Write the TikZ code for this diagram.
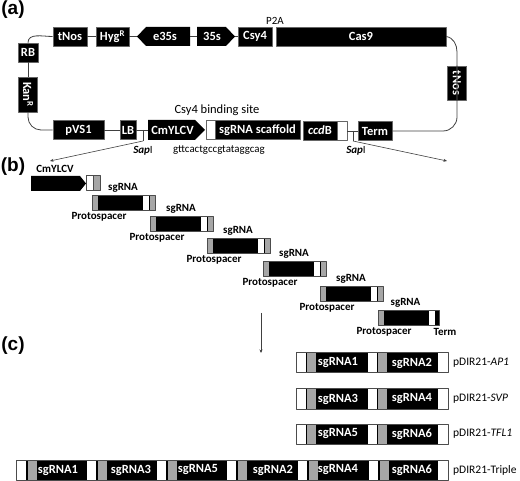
\documentclass[tikz,border=0pt]{standalone}
\usepackage{fontspec}
\setmainfont{Carlito}
\newfontfamily\panelfont{Liberation Sans}
\usetikzlibrary{arrows.meta}

\tikzset{
  part/.style={draw=black!60, line width=0.6pt, fill=black, text=white, inner sep=0pt,
    minimum height=19, font=\fontsize{12.5}{14}\selectfont\bfseries},
  parttext/.style={text=white, inner sep=0pt, minimum height=19, font=\fontsize{12.5}{14}\selectfont\bfseries},
  gapbox/.style={draw=black!60, line width=0.6pt, fill=white, inner sep=0pt, minimum height=19},
  wire/.style={black!75, line width=0.8pt},
  lead/.style={black!75, line width=0.6pt, -{Stealth[length=3.5pt,width=3pt]}},
  panel/.style={font=\panelfont\fontsize{19}{21}\selectfont\bfseries},
  plain/.style={inner sep=0pt, font=\fontsize{11}{13}\selectfont},
  tag/.style={inner sep=0pt, font=\fontsize{11}{13}\selectfont\bfseries},
  blk/.style={fill=black},
  gry/.style={fill=black!35},
  wht/.style={fill=white},
  casing/.style={draw=black!70, line width=1pt},
  guide/.style={inner sep=0pt, text=white, font=\fontsize{12.5}{14}\selectfont\bfseries}
}

\begin{document}
\begin{tikzpicture}[x=1pt,y=-1pt,line join=round,>=Stealth]
  \useasboundingbox (0,0) rectangle (520,481);

  % panel letters
  \node[panel] (panelA) at (13,10) {(a)};
  \node[panel] (panelB) at (13,167) {(b)};
  \node[panel] (panelC) at (13,346) {(c)};

  % arrow shaped parts
  \fill[blk] (137,36.5) -- (146,27) -- (190,27) -- (190,46) -- (146,46) -- cycle;
  \fill[blk] (197,27) -- (226,27) -- (235,36.5) -- (226,46) -- (197,46) -- cycle;
  \fill[blk] (148,120) -- (195,120) -- (205,130) -- (195,140) -- (148,140) -- cycle;

  % plasmid, upper row
  \node[part, minimum width=34] (tNosA) at (70,36.5) {tNos};
  \node[part, minimum width=33] (Hyg) at (112.5,36.5) {Hyg\textsuperscript{R}};
  \node[parttext, minimum width=50] (e35s) at (165,36.5) {e35s};
  \node[parttext, minimum width=30] (p35s) at (212,36.5) {35s};
  \node[part, minimum width=34] (Csy4) at (255,36.5) {Csy4};
  \node[part, minimum width=170] (Cas9) at (361,36.5) {Cas9};
  \node[plain] (P2A) at (275,21) {P2A};

  % plasmid, sides
  \node[part, minimum width=20] (RB) at (28,52.5) {RB};
  \node[part, minimum width=35, rotate=-90] (Kan) at (28,94.5) {Kan\textsuperscript{R}};
  \node[part, minimum width=34, rotate=-90] (tNosB) at (457,83) {tNos};

  % plasmid, lower row
  \node[part, minimum width=51] (pVS1) at (78.5,130) {pVS1};
  \node[part, minimum width=16] (LB) at (128,130) {LB};
  \node[parttext, minimum width=49] (CmYLCV) at (172.5,130) {CmYLCV};
  \node[gapbox, minimum width=9] (spacerA) at (210.5,130) {};
  \node[part, minimum width=85] (scaffold) at (257.5,130) {sgRNA scaffold};
  \node[part, minimum width=34] (ccdB) at (320,130.5) {\textit{ccd}B};
  \node[gapbox, minimum width=10] (spacerB) at (342,131) {};
  \node[part, minimum width=34] (TermA) at (375,131) {Term};
  \node[plain, font=\fontsize{12.5}{14}\selectfont] (siteText) at (217,110) {Csy4 binding site};
  \node[plain, font=\fontsize{10.9}{12}\selectfont] (seqText) at (219,150) {gttcactgccgtataggcag};
  \node[plain] (sapA) at (143,151) {\textit{\textbf{Sap}}I};
  \node[plain] (sapB) at (356,151) {\textit{\textbf{Sap}}I};

  % backbone
  \coordinate (tipE) at (137,36.5);
  \coordinate (tipS) at (235,36.5);
  \coordinate (kneeA) at (457,52);
  \coordinate (sapAa) at (143,130);
  \coordinate (sapAb) at (143,141);
  \coordinate (sapAc) at (50,161);
  \coordinate (sapBa) at (353,131);
  \coordinate (sapBb) at (353,141);
  \coordinate (sapBc) at (447,161);
  \draw[wire] (tNosA.west) to[out=180,in=90] (RB.north);
  \draw[wire] (tNosA) -- (Hyg);
  \draw[wire] (Hyg) -- (tipE);
  \draw[wire] (e35s) -- (p35s);
  \draw[wire] (tipS) -- (Csy4);
  \draw[wire] (Cas9.east) to[out=-10,in=90] (kneeA) -- (tNosB.east);
  \draw[wire] (RB) -- (Kan);
  \draw[wire, rounded corners=13] (Kan.east) |- (pVS1.west);
  \draw[wire] (pVS1) -- (LB);
  \draw[wire] (LB) -- (CmYLCV);
  \draw[wire] (spacerB) -- (TermA);
  \draw[wire, rounded corners=14] (tNosB.west) |- (TermA.east);
  \draw[wire] (sapAa) -- (sapAb);
  \draw[lead] (sapAb) -- (sapAc);
  \draw[wire] (sapBa) -- (sapBb);
  \draw[lead] (sapBb) -- (sapBc);

  % white gap of the P2A site
  \fill[white] (272.5,27) rectangle (275.5,46);

  % panel b, promoter
  \fill[blk] (31,176) -- (80,176) -- (86,183.5) -- (80,191) -- (31,191) -- cycle;
  \fill[gry] (93,176) rectangle (100,191);
  \draw[casing] (86,176) rectangle (100,191);
  \draw[casing] (93,176) -- (93,191);
  \node[tag] (promoter) at (55,169) {CmYLCV};

  % panel b, repeats
  \foreach \x/\y/\n in {92/196/a,150/217/b,207/239/c,263/262/d,320/287/e}{
    \fill[blk] (\x,\y) rectangle ++(63.5,15);
    \fill[gry] (\x,\y) rectangle ++(6,15);
    \fill[wht] (\x+51,\y) rectangle ++(6,15);
    \fill[gry] (\x+57.5,\y) rectangle ++(6,15);
    \draw[casing] (\x,\y) rectangle ++(63.5,15);
    \node[tag] (guide\n) at (\x+31,\y-8) {sgRNA};
    \node[tag] (proto\n) at (\x+7,\y+21) {Protospacer};
  }
  \fill[blk] (378,311) rectangle (439,326);
  \fill[gry] (378,311) rectangle (384,326);
  \fill[wht] (429,311) rectangle (435,326);
  \draw[casing] (378,311) rectangle (439,326);
  \node[tag] (guidef) at (405.5,303) {sgRNA};
  \node[tag] (protof) at (384,332) {Protospacer};
  \node[tag] (termB) at (445,332) {Term};

  \coordinate (downA) at (261,313);
  \coordinate (downB) at (261,353);
  \draw[lead] (downA) -- (downB);

  % panel c
  \foreach \y/\s/\t/\n in {353/1/2/AP1,389/3/4/SVP,424/5/6/TFL1}{
    \fill[blk] (296.5,\y) rectangle (448,\y+20);
    \foreach \x in {297,368}{
      \fill[wht] (\x,\y) rectangle ++(9,20);
      \fill[gry] (\x+10,\y) rectangle ++(9,20);
    }
    \fill[wht] (438,\y) rectangle (448,\y+20);
    \draw[casing] (296.5,\y) rectangle (448,\y+20);
    \node[guide] (row\s) at (338,\y+10) {sgRNA\s};
    \node[guide] (row\t) at (412,\y+10) {sgRNA\t};
    \node[plain, anchor=west, font=\fontsize{11.5}{13}\selectfont] (name\n) at (453,\y+10) {pDIR21-\textit{\n}};
  }

  \fill[blk] (16.5,460) rectangle (448,480);
  \foreach \x/\c/\s in {17/58/1,87/131/3,157/198/5,227/273/2,298/338/4,369/412/6}{
    \fill[wht] (\x,460) rectangle ++(9,20);
    \fill[gry] (\x+11,460) rectangle ++(8.5,20);
    \node[guide] (last\s) at (\c,470) {sgRNA\s};
  }
  \fill[wht] (438,460) rectangle (448,480);
  \draw[casing] (16.5,460) rectangle (448,480);
  \node[plain, anchor=west, font=\fontsize{11.5}{13}\selectfont] (nameTriple) at (453,470) {pDIR21-Triple};
\end{tikzpicture}
\end{document}
